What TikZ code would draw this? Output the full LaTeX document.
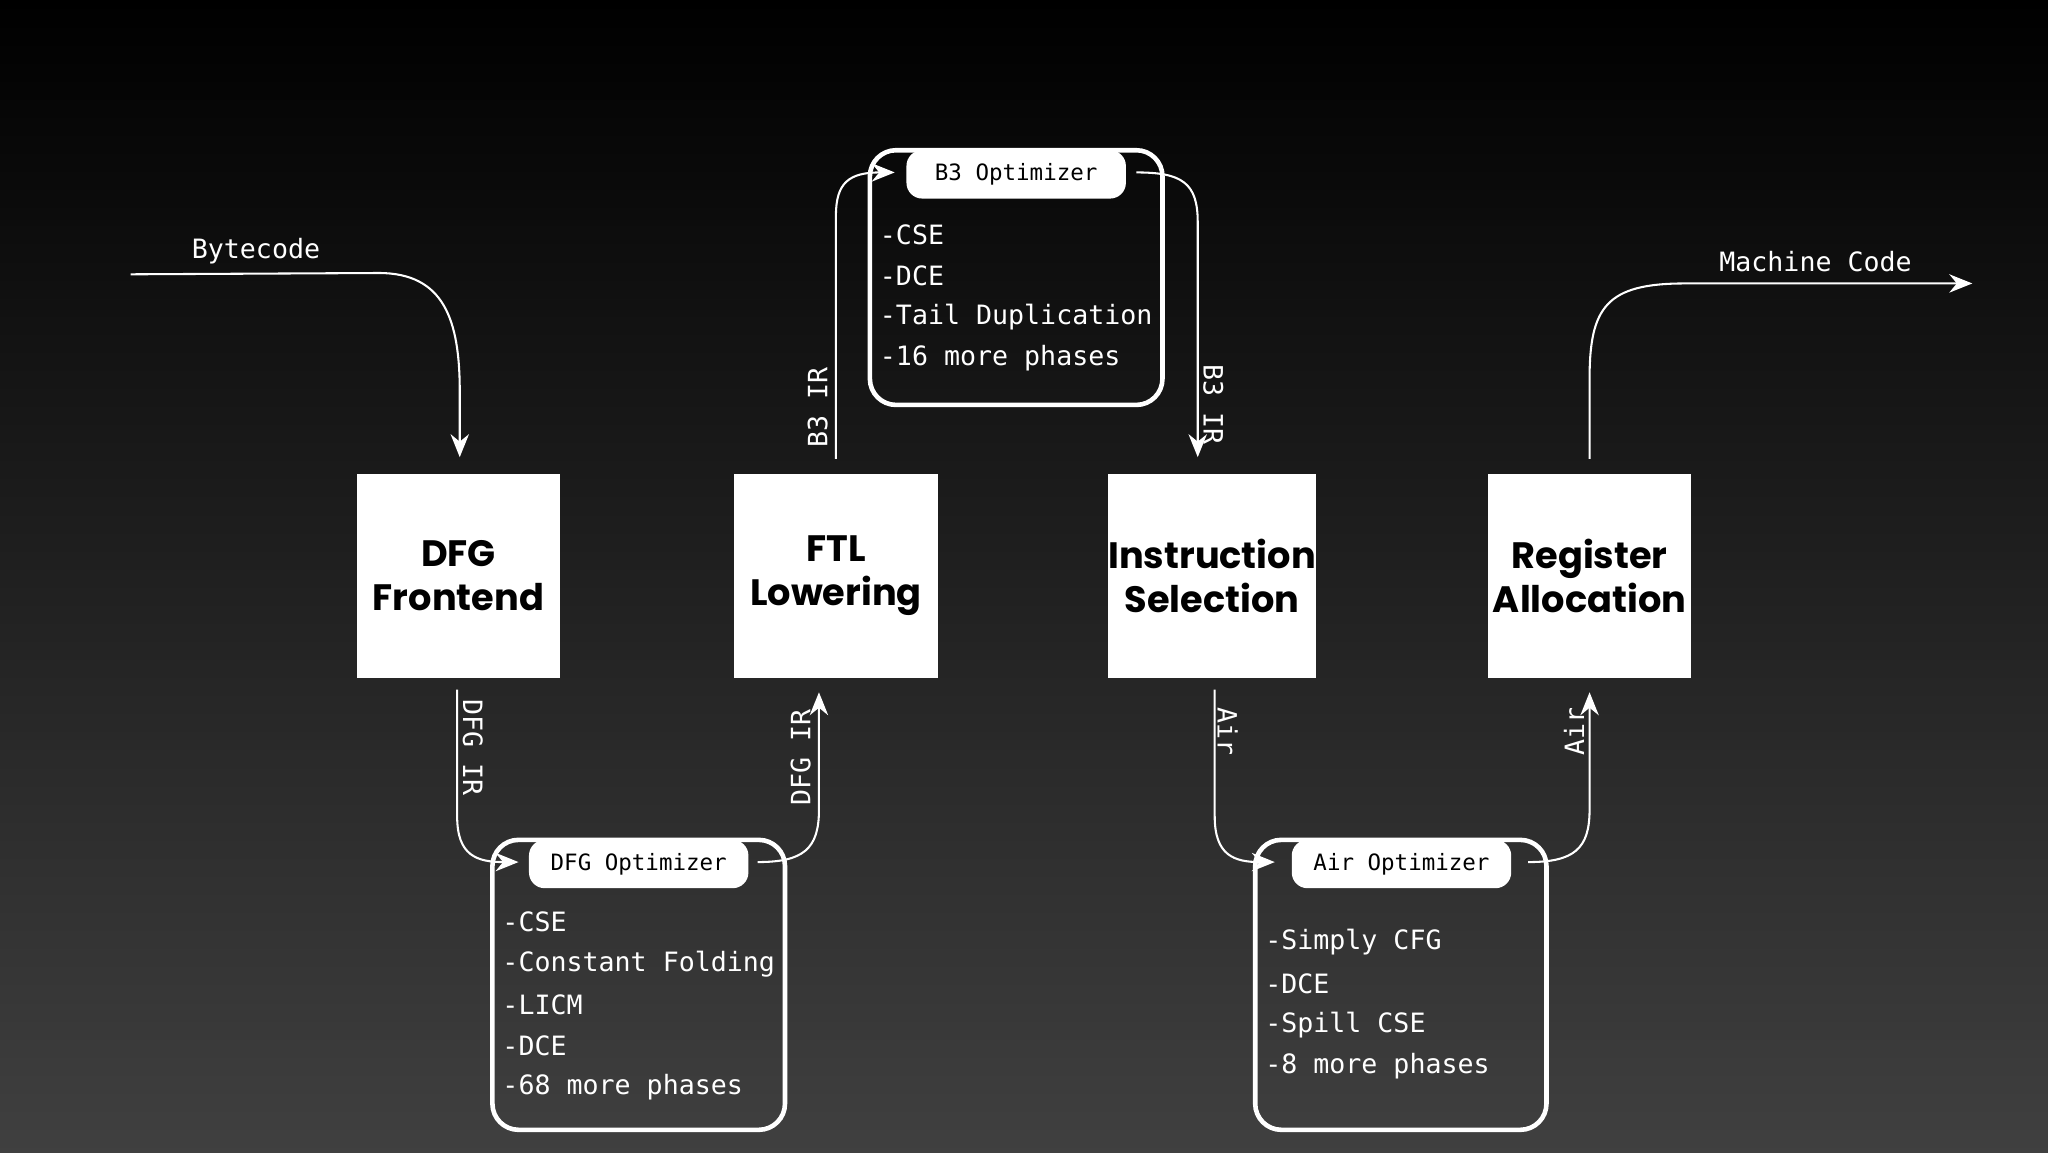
\documentclass[tikz,border=0pt]{standalone}
\usepackage{fontspec}
\setmainfont{Poppins}
\newfontfamily\codefont{DejaVu Sans Mono}
\usetikzlibrary{arrows.meta}
\begin{document}
\begin{tikzpicture}[x=1cm,y=-1cm,>={Stealth[length=5pt,width=4pt]},
  stage/.style={fill=white,minimum size=1.56cm,inner sep=0pt,align=center,font=\fontsize{8}{9.6}\selectfont\bfseries},
  optbox/.style={draw=white,line width=1pt,rounded corners=0.2cm},
  tab/.style={fill=white,rounded corners=0.12cm,minimum width=1.68cm,minimum height=0.37cm,inner sep=0pt,font=\codefont\fontsize{4.9}{5}\selectfont},
  item/.style={anchor=west,text=white,inner sep=0pt,font=\codefont\fontsize{5.8}{6}\selectfont},
  lab/.style={text=white,inner sep=0pt,font=\codefont\fontsize{5.8}{6}\selectfont},
  flow/.style={white,line width=0.45pt,->}]
\shade[top color=black,bottom color=black!75!white] (0,0) rectangle (15.68,8.82);
\useasboundingbox (0,0) rectangle (15.68,8.82);
% stages
\node[stage] (dfg) at (3.51,4.41) {DFG\\Frontend};
\node[stage] (ftl) at (6.40,4.41) {FTL\\Lowering};
\node[stage] (isel) at (9.28,4.41) {Instruction\\Selection};
\node[stage] (ralloc) at (12.17,4.41) {Register\\Allocation};
% optimizers
\draw[optbox] (6.66,1.15) rectangle (8.90,3.10);
\node[tab] (b3tab) at (7.78,1.335) {B3 Optimizer};
\node[item] at (6.73,1.80) {-CSE};
\node[item] at (6.73,2.11) {-DCE};
\node[item] at (6.73,2.43) {-Tail Duplication};
\node[item] at (6.73,2.74) {-16 more phases};
\draw[optbox] (3.77,6.43) rectangle (6.01,8.65);
\node[tab] (dfgtab) at (4.89,6.615) {DFG Optimizer};
\node[item] at (3.84,7.06) {-CSE};
\node[item] at (3.84,7.38) {-Constant Folding};
\node[item] at (3.84,7.69) {-LICM};
\node[item] at (3.84,8.01) {-DCE};
\node[item] at (3.84,8.32) {-68 more phases};
\draw[optbox] (9.61,6.43) rectangle (11.84,8.65);
\node[tab] (airtab) at (10.73,6.615) {Air Optimizer};
\node[item] at (9.68,7.21) {-Simply CFG};
\node[item] at (9.68,7.53) {-DCE};
\node[item] at (9.68,7.85) {-Spill CSE};
\node[item] at (9.68,8.16) {-8 more phases};
% ends
\coordinate (in) at (1.00,2.10);
\coordinate (out) at (15.10,2.17);
% flows
\draw[flow] (in) -- (2.90,2.09) .. controls (3.40,2.09) and (3.52,2.45) .. (3.52,3.00) -- (3.52,3.50);
\node[lab] at (1.96,1.92) {Bytecode};
\draw[flow] (3.50,5.28) -- (3.50,6.25) .. controls (3.50,6.55) and (3.65,6.60) .. (3.97,6.60);
\node[lab,rotate=-90] at (3.62,5.72) {DFG IR};
\draw[flow] (5.80,6.60) .. controls (6.15,6.60) and (6.27,6.50) .. (6.27,6.20) -- (6.27,5.30);
\node[lab,rotate=90] at (6.13,5.80) {DFG IR};
\draw[flow] (ftl.north) ++(0,-0.11) -- (6.40,1.65) .. controls (6.40,1.40) and (6.50,1.32) .. (6.85,1.32);
\node[lab,rotate=90] at (6.26,3.12) {B3 IR};
\draw[flow] (8.70,1.32) .. controls (9.05,1.32) and (9.17,1.40) .. (9.17,1.70) -- (9.17,3.50);
\node[lab,rotate=-90] at (9.29,3.10) {B3 IR};
\draw[flow] (9.30,5.28) -- (9.30,6.25) .. controls (9.30,6.55) and (9.45,6.60) .. (9.76,6.60);
\node[lab,rotate=-90] at (9.40,5.60) {Air};
\draw[flow] (11.70,6.60) .. controls (12.05,6.60) and (12.17,6.50) .. (12.17,6.20) -- (12.17,5.30);
\node[lab,rotate=90] at (12.05,5.60) {Air};
\draw[flow] (ralloc.north) ++(0,-0.11) -- (12.17,2.90) .. controls (12.17,2.35) and (12.30,2.17) .. (12.90,2.17) -- (out);
\node[lab] at (13.90,2.00) {Machine Code};
\end{tikzpicture}
\end{document}
